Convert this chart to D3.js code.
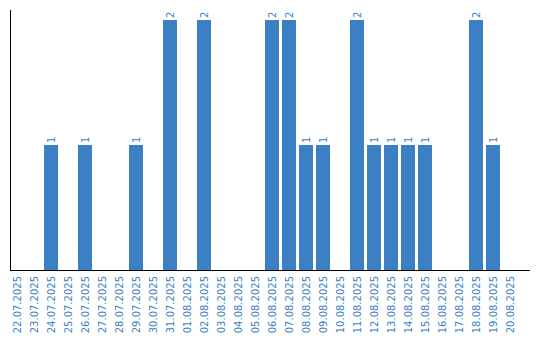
<!DOCTYPE html>
<html>
<head>
<meta charset="utf-8">
<script src="https://cdn.jsdelivr.net/npm/d3@7"></script>
<style>
    body { margin: 0; background: #fff; }
    text { font-family: "DejaVu Sans", sans-serif; font-size: 10px; fill: #3b7fc4; }
</style>
</head>
<body>
<svg id="chart" width="540" height="340"></svg>
<script>
// dates and counts
let dates = ["22.07.2025", "23.07.2025", "24.07.2025", "25.07.2025", "26.07.2025",
    "27.07.2025", "28.07.2025", "29.07.2025", "30.07.2025", "31.07.2025",
    "01.08.2025", "02.08.2025", "03.08.2025", "04.08.2025", "05.08.2025",
    "06.08.2025", "07.08.2025", "08.08.2025", "09.08.2025", "10.08.2025",
    "11.08.2025", "12.08.2025", "13.08.2025", "14.08.2025", "15.08.2025",
    "16.08.2025", "17.08.2025", "18.08.2025", "19.08.2025", "20.08.2025"];
let counts = [0, 0, 1, 0, 1, 0, 0, 1, 0, 2,
    0, 2, 0, 0, 0, 2, 2, 1, 1, 0,
    2, 1, 1, 1, 1, 0, 0, 2, 1, 0];

let data = dates.map((d, i) => ({ date: d, count: counts[i] }));

let svg = d3.select("#chart");

let x = d3.scaleBand()
    .domain(dates)
    .range([8.5, 518.5])
    .paddingInner(3 / 17)
    .paddingOuter(3 / 34);

let y = d3.scaleLinear()
    .domain([0, 2])
    .range([270, 20]);

// bars
svg.append("g").selectAll("rect")
    .data(data.filter(d => d.count > 0))
    .enter().append("rect")
    .attr("x", d => x(d.date))
    .attr("y", d => y(d.count))
    .attr("width", x.bandwidth())
    .attr("height", d => y(0) - y(d.count))
    .attr("fill", "#3b7fc4");

// value labels
svg.append("g").selectAll("text")
    .data(data.filter(d => d.count > 0))
    .enter().append("text")
    .attr("transform", d => "translate(" + (x(d.date) + x.bandwidth() / 2 + 3.5) + "," + (y(d.count) - 2) + ") rotate(-90)")
    .attr("text-anchor", "start")
    .text(d => d.count);

// axes lines
svg.append("line")
    .attr("x1", 10.5).attr("x2", 10.5)
    .attr("y1", 10).attr("y2", 270)
    .attr("stroke", "#000");
svg.append("line")
    .attr("x1", 10).attr("x2", 530)
    .attr("y1", 270.5).attr("y2", 270.5)
    .attr("stroke", "#000");

// date labels
svg.append("g").selectAll("text")
    .data(dates)
    .enter().append("text")
    .attr("transform", d => "translate(" + (x(d) + x.bandwidth() / 2 + 3.5) + ",276) rotate(-90)")
    .attr("text-anchor", "end")
    .text(d => d);
</script>
</body>
</html>
